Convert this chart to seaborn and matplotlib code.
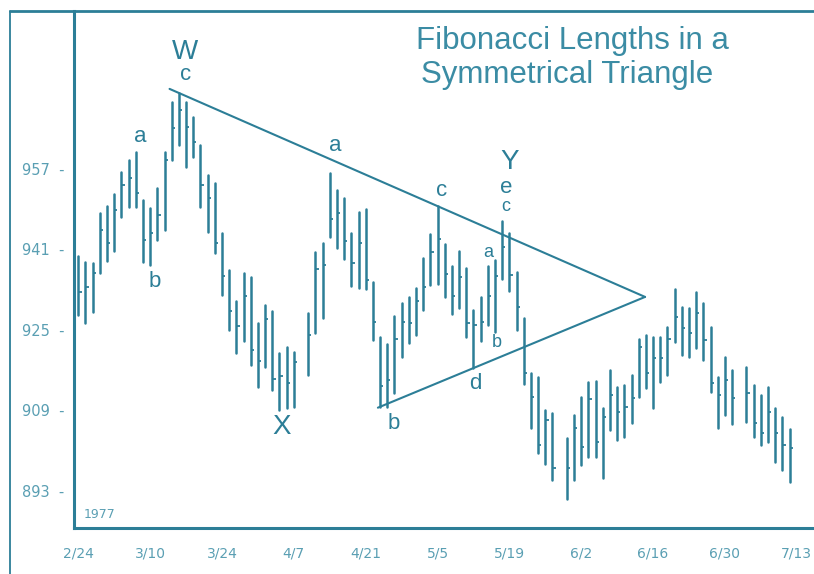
import numpy as np
import pandas as pd
import seaborn as sns
import matplotlib.pyplot as plt
from matplotlib.lines import Line2D

# daily bars, 1977 (x = weekday number from 2/24, holidays 4/8, 5/30, 7/4 missing)
day_idx = [0, 1, 2, 3, 4, 5, 6, 7, 8, 9, 10, 11, 12, 13, 14, 15, 16, 17, 18, 19,
           20, 21, 22, 23, 24, 25, 26, 27, 28, 29, 30, 32, 33, 34, 35, 36, 37, 38, 39, 40,
           41, 42, 43, 44, 45, 46, 47, 48, 49, 50, 51, 52, 53, 54, 55, 56, 57, 58, 59, 60,
           61, 62, 63, 64, 65, 66, 68, 69, 70, 71, 72, 73, 74, 75, 76, 77, 78, 79, 80, 81,
           82, 83, 84, 85, 86, 87, 88, 89, 90, 91, 93, 94, 95, 96, 97, 98, 99]
highs = [939.7, 938.5, 938.3, 948.3, 949.6, 952.0, 956.4, 958.8, 960.4, 950.8,
         949.2, 953.2, 960.4, 970.3, 972.1, 970.3, 967.3, 961.8, 955.8, 954.2,
         944.3, 936.9, 930.8, 936.3, 935.5, 926.4, 930.0, 928.8, 920.4, 921.6,
         920.6, 928.4, 940.5, 942.3, 956.2, 952.8, 951.2, 944.3, 948.5, 949.0,
         934.5, 923.6, 922.2, 927.8, 930.4, 931.6, 933.3, 939.3, 944.1, 949.6,
         942.1, 937.7, 940.7, 937.3, 929.0, 931.6, 937.7, 938.9, 946.7, 944.3,
         936.5, 927.4, 916.4, 915.6, 909.1, 908.5, 903.5, 908.1, 911.7, 914.7,
         914.9, 909.5, 917.0, 913.7, 914.1, 916.0, 923.2, 924.0, 923.6, 923.6,
         925.6, 933.1, 929.6, 929.4, 932.5, 930.4, 925.6, 915.6, 919.6, 917.0,
         917.6, 914.1, 912.1, 913.7, 909.5, 907.7, 905.3]
lows = [928.0, 926.4, 928.6, 936.3, 938.7, 940.7, 947.5, 949.4, 949.4, 938.5,
        937.9, 942.9, 944.9, 958.8, 961.8, 957.4, 959.4, 949.4, 944.5, 940.3,
        931.9, 925.0, 920.4, 922.8, 918.0, 913.7, 917.6, 913.1, 909.1, 909.5,
        909.7, 916.0, 924.4, 927.4, 943.5, 941.3, 939.1, 933.7, 933.3, 933.1,
        923.0, 909.7, 909.7, 912.5, 919.6, 922.4, 924.0, 929.0, 933.9, 934.1,
        931.6, 928.2, 929.4, 923.6, 917.4, 922.8, 926.0, 924.6, 935.1, 932.7,
        925.0, 914.3, 905.5, 900.5, 898.3, 895.2, 891.4, 895.2, 898.2, 899.7,
        899.7, 895.6, 905.1, 903.1, 903.7, 906.5, 911.7, 913.5, 909.5, 914.7,
        916.0, 922.6, 920.0, 919.6, 921.4, 919.0, 912.7, 905.5, 908.1, 906.3,
        906.7, 903.7, 902.1, 902.7, 898.7, 897.2, 894.8]
closes = [932.5, 933.5, 936.3, 944.9, 942.3, 948.8, 953.8, 955.2, 952.2, 942.9,
          944.3, 947.9, 958.8, 965.2, 968.7, 965.3, 962.4, 953.8, 951.2, 942.3,
          935.7, 928.8, 925.8, 931.8, 921.0, 918.8, 927.2, 915.2, 915.8, 914.5,
          918.6, 924.0, 937.1, 937.9, 947.1, 948.3, 942.7, 938.3, 942.3, 934.9,
          926.6, 913.9, 915.0, 923.2, 926.6, 926.4, 930.8, 933.5, 940.5, 943.1,
          936.1, 931.8, 935.5, 926.4, 926.0, 926.6, 931.8, 935.7, 941.5, 935.9,
          929.6, 916.4, 911.7, 902.1, 907.1, 897.6, 897.6, 905.5, 901.7, 911.3,
          902.7, 907.7, 912.1, 908.7, 909.7, 911.5, 921.6, 916.4, 919.4, 919.4,
          923.2, 927.6, 925.4, 924.4, 928.4, 923.0, 914.5, 912.1, 915.0, 911.5,
          912.5, 906.5, 904.5, 908.7, 904.5, 902.1, 901.5]

tick_pos = [0, 10, 20, 30, 40, 50, 60, 70, 80, 90, 100]
tick_labels = ["2/24", "3/10", "3/24", "4/7", "4/21", "5/5", "5/19", "6/2", "6/16", "6/30", "7/13"]
y_ticks = [893, 909, 925, 941, 957]

# triangle pivots: upper line W -> c, lower line b -> d
upper_pivots = [14, 50]
lower_pivots = [42, 55]

# wave labels (text, x, y, size)
labels = [("W", 14.8, 980.3, 20), ("c", 14.9, 975.7, 16),
          ("a", 8.6, 963.4, 16), ("b", 10.6, 934.7, 16),
          ("X", 28.3, 905.7, 20),
          ("a", 35.8, 961.6, 16), ("b", 43.9, 906.3, 16),
          ("c", 50.6, 952.8, 16), ("d", 55.3, 914.3, 16),
          ("Y", 60.0, 958.4, 20), ("e", 59.6, 953.4, 16), ("c", 59.5, 949.6, 13),
          ("a", 57.1, 940.3, 13), ("b", 58.2, 922.4, 13)]

teal = "#2c7e97"
light = "#5a9fb3"

sns.set_theme(style="white")
plt.rcParams["font.family"] = ["Liberation Sans", "DejaVu Sans"]

fig = plt.figure(figsize=(8.14, 5.74), dpi=100)
ax = fig.add_axes([74 / 814, 46 / 574, 740 / 814, 517 / 574])

bars = pd.DataFrame({"day": day_idx * 2, "price": lows + highs,
                     "bar": list(range(len(day_idx))) * 2})
sns.lineplot(data=bars, x="day", y="price", units="bar", estimator=None,
             color=teal, linewidth=1.8, ax=ax)
ax.hlines(closes, np.array(day_idx), np.array(day_idx) + 0.45, color=teal, linewidth=1.3)

# trendlines
hi = dict(zip(day_idx, highs))
lo = dict(zip(day_idx, lows))
u0, u1 = upper_pivots
l0, l1 = lower_pivots
su = (hi[u1] - hi[u0]) / (u1 - u0)
sl = (lo[l1] - lo[l0]) / (l1 - l0)
apex_x = (lo[l0] - sl * l0 - hi[u0] + su * u0) / (su - sl)
ux = np.array([u0 - 1.3, apex_x])
lx = np.array([l0 - 0.3, apex_x])
ax.plot(ux, hi[u0] + su * (ux - u0), color=teal, linewidth=1.5)
ax.plot(lx, lo[l0] + sl * (lx - l0), color=teal, linewidth=1.5)

for txt, x, y, s in labels:
    ax.text(x, y, txt, fontsize=s, color=teal, ha="center", va="center")

ax.text(0.7, 887.5, "1977", fontsize=9, color=light, family="DejaVu Sans")

ax.set_xlim(-0.6, 102.4)
ax.set_ylim(885.6, 988.4)
ax.set_xticks(tick_pos)
ax.set_xticklabels(tick_labels, fontsize=10, color=light, family="DejaVu Sans")
ax.set_yticks(y_ticks)
ax.set_yticklabels([f"{v}  -" for v in y_ticks], fontsize=10.5, color=light, family="DejaVu Sans")
ax.tick_params(axis="x", length=0, pad=13)
ax.tick_params(axis="y", length=0, pad=7)
ax.set_xlabel("")
ax.set_ylabel("")
ax.spines["top"].set_visible(False)
ax.spines["right"].set_visible(False)
for s in ["left", "bottom"]:
    ax.spines[s].set_color(teal)
    ax.spines[s].set_linewidth(2.2)

# outer frame of the figure
fig.add_artist(Line2D([10 / 814, 10 / 814], [0, 1 - 11 / 574], transform=fig.transFigure,
                      color=teal, linewidth=1.3))
fig.add_artist(Line2D([10 / 814, 1], [1 - 11 / 574, 1 - 11 / 574], transform=fig.transFigure,
                      color=teal, linewidth=2))

fig.text(0.703, 0.928, "Fibonacci Lengths in a", fontsize=22.5, color="#3b8ca4",
         ha="center", va="center")
fig.text(0.697, 0.869, "Symmetrical Triangle", fontsize=22.5, color="#3b8ca4",
         ha="center", va="center")

fig.savefig("out.png", dpi=100)
